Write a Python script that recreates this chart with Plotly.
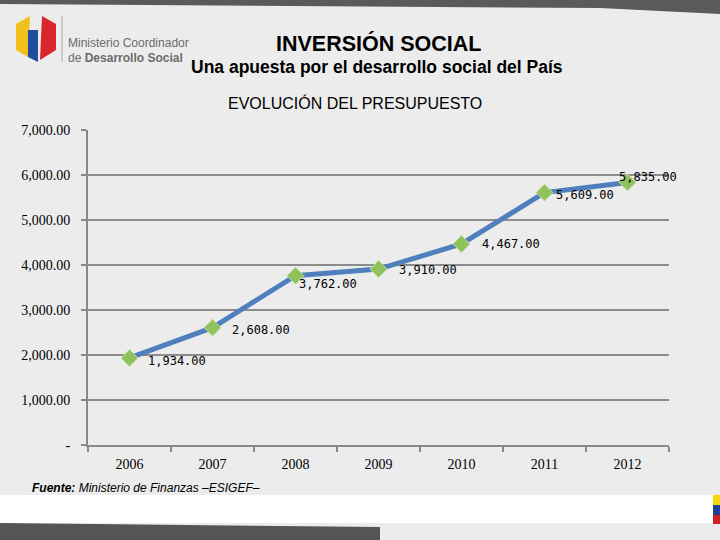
import plotly.graph_objects as go

years = ["2006", "2007", "2008", "2009", "2010", "2011", "2012"]
budget = [1934, 2608, 3762, 3910, 4467, 5609, 5835]
value_labels = ["1,934.00", "2,608.00", "3,762.00", "3,910.00", "4,467.00", "5,609.00", "5,835.00"]
y_tickvals = [0, 1000, 2000, 3000, 4000, 5000, 6000, 7000]
y_ticktext = ["-", "1,000.00", "2,000.00", "3,000.00", "4,000.00", "5,000.00", "6,000.00", "7,000.00"]

# label offsets (style)
label_dx = [16, 17, 1, 18, 18, 9, -11]
label_dy = [-3, -2, -8, -1, 0, -2, 5]

W, H = 720, 540
L, R, T, B = 88, 51, 130, 95
PW, PH = W - L - R, H - T - B


def px(x):
    return (x - L) / PW


def py(y):
    return (H - B - y) / PH


fig = go.Figure()
fig.add_trace(go.Scatter(
    x=years, y=budget, mode="lines+markers",
    line=dict(color="#4f7fbd", width=5),
    marker=dict(symbol="diamond", size=13, color="#8fc25a",
                line=dict(color="#c3dca0", width=1)),
    hoverinfo="x+y", showlegend=False,
))

annotations = []
for i, (v, t, dx, dy) in enumerate(zip(budget, value_labels, label_dx, label_dy)):
    annotations.append(dict(
        x=i, y=v, xref="x", yref="y", text=t, showarrow=False,
        xanchor="left", yanchor="middle", xshift=dx, yshift=dy,
        font=dict(family="DejaVu Sans Mono", size=12, color="#000000"),
    ))

# titles
annotations += [
    dict(x=px(378), y=py(43), xref="paper", yref="paper", text="<b>INVERSIÓN SOCIAL</b>",
         showarrow=False, xanchor="center", yanchor="middle",
         font=dict(family="Liberation Sans", size=21.5, color="#000000")),
    dict(x=px(377), y=py(67), xref="paper", yref="paper",
         text="<b>Una apuesta por el desarrollo social del País</b>",
         showarrow=False, xanchor="center", yanchor="middle",
         font=dict(family="Liberation Sans", size=17.5, color="#000000")),
    dict(x=px(355), y=py(103), xref="paper", yref="paper", text="EVOLUCIÓN DEL PRESUPUESTO",
         showarrow=False, xanchor="center", yanchor="middle",
         font=dict(family="Liberation Sans", size=16, color="#000000")),
    dict(x=px(30), y=py(488), xref="paper", yref="paper",
         text="<b><i>Fuente:</i></b><i> Ministerio de Finanzas –ESIGEF–</i>",
         showarrow=False, xanchor="left", yanchor="middle",
         font=dict(family="Liberation Sans", size=12, color="#000000")),
    dict(x=px(66), y=py(43), xref="paper", yref="paper", text="Ministerio Coordinador",
         showarrow=False, xanchor="left", yanchor="middle",
         font=dict(family="Liberation Sans", size=12, color="#6b6b6b")),
    dict(x=px(66), y=py(58), xref="paper", yref="paper", text="de <b>Desarrollo Social</b>",
         showarrow=False, xanchor="left", yanchor="middle",
         font=dict(family="Liberation Sans", size=12, color="#6b6b6b")),
]

shapes = [
    # top dark band
    dict(type="path", xref="paper", yref="paper", layer="below",
         path=f"M {px(0)},{py(0)} L {px(720)},{py(0)} L {px(720)},{py(14)} L {px(600)},{py(8)} L {px(0)},{py(4)} Z",
         fillcolor="#5a5a5a", line=dict(width=0)),
    # white bottom band
    dict(type="rect", xref="paper", yref="paper", layer="below",
         x0=px(0), x1=px(720), y0=py(523), y1=py(495),
         fillcolor="#ffffff", line=dict(width=0)),
    # bottom dark band
    dict(type="path", xref="paper", yref="paper", layer="below",
         path=f"M {px(0)},{py(523)} L {px(380)},{py(527)} L {px(380)},{py(540)} L {px(0)},{py(540)} Z",
         fillcolor="#555555", line=dict(width=0)),
    # logo divider
    dict(type="line", xref="paper", yref="paper", x0=px(62), x1=px(62), y0=py(16), y1=py(62),
         line=dict(color="#aaaaaa", width=1)),
    # logo hexagon parts
    dict(type="path", xref="paper", yref="paper",
         path=f"M {px(30)},{py(16)} L {px(16)},{py(24)} L {px(16)},{py(50)} L {px(28)},{py(57)} Z",
         fillcolor="#f2c01a", line=dict(width=0)),
    dict(type="path", xref="paper", yref="paper",
         path=f"M {px(28)},{py(30)} L {px(38)},{py(30)} L {px(38)},{py(62)} L {px(28)},{py(57)} Z",
         fillcolor="#1f4ea0", line=dict(width=0)),
    dict(type="path", xref="paper", yref="paper",
         path=f"M {px(42)},{py(16)} L {px(56)},{py(24)} L {px(56)},{py(50)} L {px(40)},{py(60)} Z",
         fillcolor="#d9262a", line=dict(width=0)),
    # flag corner
    dict(type="rect", xref="paper", yref="paper", x0=px(713), x1=px(720), y0=py(505), y1=py(495),
         fillcolor="#f5d90a", line=dict(width=0)),
    dict(type="rect", xref="paper", yref="paper", x0=px(713), x1=px(720), y0=py(515), y1=py(505),
         fillcolor="#1b3f9a", line=dict(width=0)),
    dict(type="rect", xref="paper", yref="paper", x0=px(713), x1=px(720), y0=py(524), y1=py(515),
         fillcolor="#d21f26", line=dict(width=0)),
]

fig.update_layout(
    width=W, height=H,
    margin=dict(l=L, r=R, t=T, b=B, pad=0),
    paper_bgcolor="#ececec",
    plot_bgcolor="rgba(0,0,0,0)",
    annotations=annotations,
    shapes=shapes,
    xaxis=dict(
        type="category", range=[-0.5, 6.5], showgrid=False,
        showline=True, linecolor="#888888", linewidth=2,
        ticks="outside", tickson="boundaries", ticklen=5, tickcolor="#888888", tickwidth=2,
        tickfont=dict(family="Liberation Serif", size=14, color="#000000"),
        ticklabelstandoff=5,
        fixedrange=True,
    ),
    yaxis=dict(
        range=[0, 7000], tickvals=y_tickvals, ticktext=y_ticktext,
        showgrid=True, gridcolor="#8c8c8c", gridwidth=1.5,
        showline=True, linecolor="#888888", linewidth=2,
        ticks="outside", ticklen=5, tickcolor="#888888", tickwidth=2,
        tickfont=dict(family="Liberation Serif", size=14, color="#000000"),
        ticklabelstandoff=8,
        zeroline=False, fixedrange=True,
    ),
)

fig.write_html("out.html", config={"displayModeBar": False},
               post_script="document.body.style.margin='0';document.body.style.overflow='hidden';")
